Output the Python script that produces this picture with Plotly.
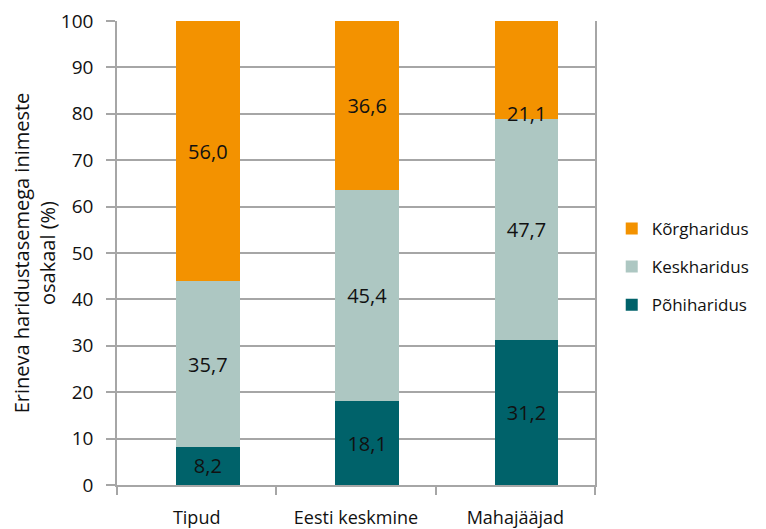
# Stacked bar chart: education level shares by group
import plotly.graph_objects as go

# data
groups = ["Tipud", "Eesti keskmine", "Mahajääjad"]
pohiharidus = [8.2, 18.1, 31.2]
keskharidus = [35.7, 45.4, 47.7]
korgharidus = [56.0, 36.6, 21.1]
series_names = ["Põhiharidus", "Keskharidus", "Kõrgharidus"]
y_ticks = [0, 10, 20, 30, 40, 50, 60, 70, 80, 90, 100]

colors = ["#00626A", "#ADC7C2", "#F39200"]
font_family = "Open Sans, Noto Sans, sans-serif"
lbl_size = 20
bar_width = 0.4
bar_shift = 0.07  # bars sit slightly right of the category centre in the original

fig = go.Figure()
for i, (name, vals) in enumerate(zip(series_names, [pohiharidus, keskharidus, korgharidus])):
    # last label of the top series sits at the segment's bottom edge in the original
    texts = ["%.1f" % v if not (i == 2 and j == 2) else "" for j, v in enumerate(vals)]
    texts = [t.replace(".", ",") for t in texts]
    fig.add_trace(
        go.Bar(
            x=groups,
            y=vals,
            name=name,
            legendgroup=name,
            legendrank=10 - i,
            width=bar_width,
            offset=-bar_width / 2 + bar_shift,
            marker_color=colors[i],
            marker_line_width=0,
            text=texts,
            textposition="inside",
            insidetextanchor="middle",
            textangle=0,
            textfont=dict(size=lbl_size, color="#111111", family=font_family),
        )
    )

# label of Mahajääjad Kõrgharidus, placed at the bottom of its segment
base = pohiharidus[2] + keskharidus[2]
fig.add_annotation(
    x=groups[2],
    y=base,
    text=("%.1f" % korgharidus[2]).replace(".", ","),
    showarrow=False,
    yanchor="middle",
    yshift=5,
    xshift=11,
    font=dict(size=lbl_size, color="#111111", family=font_family),
)

# page body adds an 8px offset, margins compensate for it
fig.update_layout(
    width=766,
    height=529,
    barmode="stack",
    plot_bgcolor="white",
    paper_bgcolor="white",
    font=dict(family=font_family, size=18, color="#111111"),
    margin=dict(l=109, r=179, t=13, b=52, autoexpand=False),
    showlegend=True,
    uniformtext=dict(minsize=10, mode="show"),
    legend=dict(
        traceorder="grouped",
        tracegroupgap=13,
        x=1.035,
        xanchor="left",
        y=0.47,
        yanchor="middle",
        font=dict(size=17, family=font_family),
        itemwidth=30,
    ),
)

fig.update_xaxes(
    showgrid=False,
    showline=True,
    linecolor="#A6A6A6",
    linewidth=1.5,
    ticks="outside",
    tickson="boundaries",
    ticklen=8,
    tickcolor="#A6A6A6",
    tickwidth=1.5,
    ticklabelstandoff=16,
    tickfont=dict(size=18),
    automargin=False,
)

fig.update_yaxes(
    title=dict(
        text="Erineva haridustasemega inimeste<br>osakaal (%)",
        font=dict(size=20),
        standoff=10,
    ),
    automargin=False,
    range=[0, 100],
    tickvals=y_ticks,
    ticklabeloverflow="allow",
    ticklabelstandoff=9,
    showgrid=True,
    gridcolor="#A6A6A6",
    gridwidth=1.5,
    showline=True,
    mirror=True,
    linecolor="#A6A6A6",
    linewidth=1.5,
    ticks="outside",
    ticklen=9,
    tickcolor="#A6A6A6",
    tickwidth=1.5,
    tickfont=dict(size=19),
    zeroline=False,
)

fig.write_html("out.html")
